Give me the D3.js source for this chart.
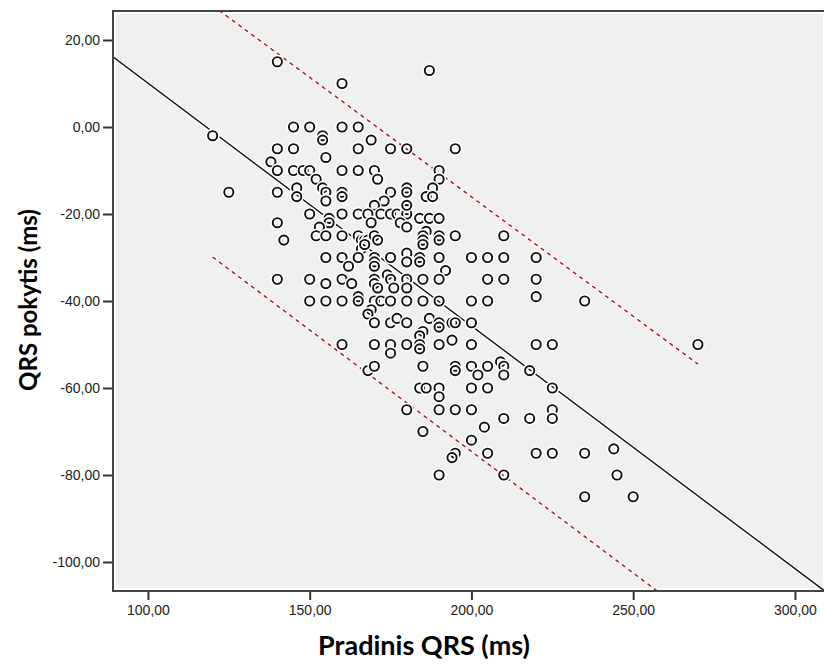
<!DOCTYPE html>
<meta charset="utf-8">
<style>
  body { margin: 0; background: #fff; }
  .tick text { font-family: "Liberation Sans", Arial, sans-serif; font-size: 14px; fill: #222; }
  .title { font-family: Lato, "Open Sans", sans-serif; font-weight: 700; fill: #000; }
</style>
<svg width="824" height="664"></svg>
<script src="https://d3js.org/d3.v7.min.js"></script>
<script>

  // Pradinis QRS (ms) vs QRS pokytis (ms)
  var baselineQrs = [
    140, 160, 187, 120, 125,
    145, 150, 160, 165, 154, 154, 169,
    140, 145, 165, 175, 180, 195, 155, 138,
    140, 145, 148, 150, 160, 165, 170, 190, 152, 171, 190,
    140, 146, 146, 154, 155, 160, 160, 175, 180, 180, 188, 186, 188, 155, 173, 170,
    150, 156, 156, 160, 165, 168, 172, 175, 177, 180, 180, 180, 184, 187, 190, 140, 169, 178, 180, 153,
    152, 155, 160, 165, 166, 167, 168, 170, 171, 142, 186, 185, 185, 185, 190, 190, 195, 210, 166, 167,
    155, 160, 165, 162, 170, 170, 170, 175, 180, 180, 184, 184, 190, 192, 200, 205, 210, 220,
    140, 150, 155, 160, 163, 170, 170, 171, 174, 175, 176, 180, 180, 185, 190, 205, 210, 220, 220,
    150, 155, 160, 165, 165, 170, 172, 175, 180, 185, 190, 200, 205, 235, 169, 168,
    170, 175, 177, 180, 187, 190, 190, 194, 195, 200, 185, 184,
    160, 170, 175, 175, 180, 184, 184, 190, 194, 200, 220, 225, 270,
    168, 170, 185, 195, 195, 200, 202, 205, 209, 210, 210, 218,
    184, 186, 190, 190, 200, 205, 225,
    180, 190, 195, 200, 210, 218, 225, 225, 204, 185,
    200, 195, 194, 205, 220, 225, 235, 244,
    190, 210, 245, 235, 250
  ];
  var qrsChange = [
    15, 10, 13, -2, -15,
    0, 0, 0, 0, -2, -3, -3,
    -5, -5, -5, -5, -5, -5, -7, -8,
    -10, -10, -10, -10, -10, -10, -10, -10, -12, -12, -12,
    -15, -14, -16, -14, -15, -15, -16, -15, -14, -15, -14, -16, -16, -17, -17, -18,
    -20, -21, -22, -20, -20, -20, -20, -20, -20, -19, -20, -18, -21, -21, -21, -22, -22, -22, -23, -23,
    -25, -25, -25, -25, -26, -26, -26, -25, -26, -26, -24, -25, -26, -27, -25, -26, -25, -25, -28, -27,
    -30, -30, -30, -32, -30, -31, -32, -30, -29, -31, -30, -31, -30, -33, -30, -30, -30, -30,
    -35, -35, -36, -35, -36, -35, -36, -37, -34, -35, -37, -35, -37, -35, -35, -35, -35, -35, -39,
    -40, -40, -40, -39, -40, -40, -40, -40, -40, -40, -40, -40, -40, -40, -42, -43,
    -45, -45, -44, -45, -44, -45, -46, -45, -45, -45, -47, -48,
    -50, -50, -50, -52, -50, -50, -51, -50, -49, -50, -50, -50, -50,
    -56, -55, -55, -55, -56, -55, -57, -55, -54, -55, -57, -56,
    -60, -60, -60, -62, -60, -60, -60,
    -65, -65, -65, -65, -67, -67, -65, -67, -69, -70,
    -72, -75, -76, -75, -75, -75, -75, -74,
    -80, -80, -80, -85, -85
  ];

  // fit line and 95% interval lines (end points)
  var fitLine = [[89.2, 16.1], [309.6, -106.9]];
  var upperBand = [[120, 27.9], [270, -54.5]];
  var lowerBand = [[120, -29.9], [270, -113.7]];

  var xTicks = [100, 150, 200, 250, 300];
  var yTicks = [20, 0, -20, -40, -60, -80, -100];

  var svg = d3.select("svg");
  var pLeft = 113, pRight = 826, pTop = 11, pBottom = 591;

  var x = d3.scaleLinear().domain([89.2, 309.6]).range([pLeft, pRight]);
  var y = d3.scaleLinear().domain([-106.67, 26.67]).range([pBottom, pTop]);
  var fmt = function(d) { return d3.format(".2f")(d).replace(".", ",").replace("\u2212", "-"); };

  // frame + grey panel
  svg.append("rect")
    .attr("x", pLeft).attr("y", pTop)
    .attr("width", pRight - pLeft).attr("height", pBottom - pTop)
    .attr("fill", "#fff").attr("stroke", "#444").attr("stroke-width", 2);
  svg.append("rect")
    .attr("x", pLeft + 3).attr("y", pTop + 3)
    .attr("width", pRight - pLeft - 6).attr("height", pBottom - pTop - 6)
    .attr("fill", "#f0f0f0");

  svg.append("clipPath").attr("id", "clip")
    .append("rect")
    .attr("x", pLeft + 1).attr("y", pTop + 1)
    .attr("width", pRight - pLeft - 2).attr("height", pBottom - pTop - 2);

  var plot = svg.append("g").attr("clip-path", "url(#clip)");

  var line = d3.line()
    .x(function(d) { return x(d[0]); })
    .y(function(d) { return y(d[1]); });

  // interval lines
  [upperBand, lowerBand].forEach(function(b) {
    plot.append("path").attr("d", line(b))
      .attr("fill", "none").attr("stroke", "#fff").attr("stroke-width", 3.5)
      .attr("stroke-dasharray", "5,3").attr("stroke-dashoffset", 0.5);
    plot.append("path").attr("d", line(b))
      .attr("fill", "none").attr("stroke", "#a3282b").attr("stroke-width", 1.6)
      .attr("stroke-dasharray", "4,4");
  });

  // fit line
  plot.append("path").attr("d", line(fitLine))
    .attr("fill", "none").attr("stroke", "#fff").attr("stroke-width", 4);
  plot.append("path").attr("d", line(fitLine))
    .attr("fill", "none").attr("stroke", "#111").attr("stroke-width", 1.4);

  // points, each with a white halo
  var pts = plot.selectAll("g.pt")
    .data(d3.range(baselineQrs.length))
    .enter().append("g").attr("class", "pt")
    .attr("transform", function(i) { return "translate(" + x(baselineQrs[i]) + "," + y(qrsChange[i]) + ")"; });
  pts.append("circle").attr("r", 4.6)
    .attr("fill", "none").attr("stroke", "#fff").attr("stroke-width", 5);
  pts.append("circle").attr("r", 4.6)
    .attr("fill", "none").attr("stroke", "#111").attr("stroke-width", 1.9);

  // axes
  var yAxis = svg.append("g")
    .attr("transform", "translate(" + (pLeft - 1) + ",0)")
    .call(d3.axisLeft(y).tickValues(yTicks).tickFormat(fmt).tickSize(9).tickPadding(3));
  var xAxis = svg.append("g")
    .attr("transform", "translate(0," + (pBottom + 1) + ")")
    .call(d3.axisBottom(x).tickValues(xTicks).tickFormat(fmt).tickSize(8).tickPadding(5));
  [xAxis, yAxis].forEach(function(a) {
    a.select(".domain").remove();
    a.selectAll(".tick line").attr("stroke", "#333").attr("stroke-width", 2);
  });

  svg.append("text").attr("class", "title")
    .attr("x", 424).attr("y", 655)
    .attr("font-size", 27)
    .attr("text-anchor", "middle")
    .text("Pradinis QRS (ms)");
  svg.append("text").attr("class", "title")
    .attr("transform", "translate(37,300) rotate(-90)")
    .attr("font-size", 24)
    .attr("text-anchor", "middle")
    .text("QRS pokytis (ms)");

</script>
